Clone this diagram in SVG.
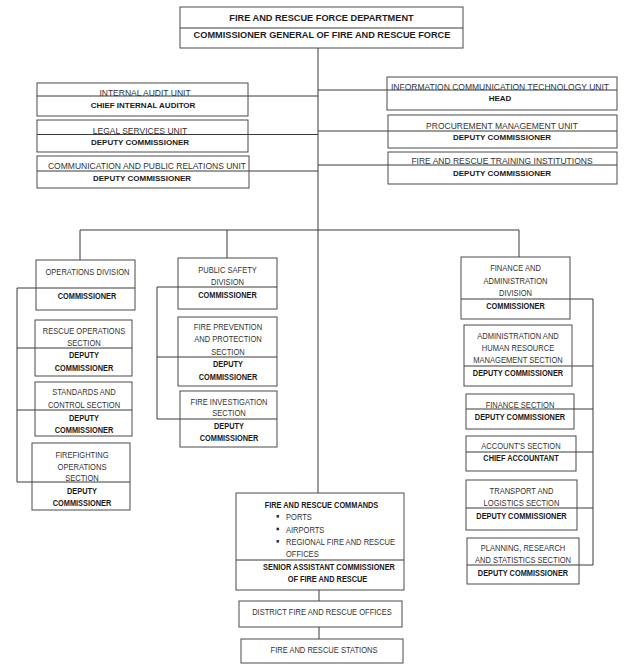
<svg xmlns="http://www.w3.org/2000/svg" width="635" height="666" viewBox="0 0 635 666">
<style>
text{font-family:"Liberation Sans",Arial,sans-serif;text-anchor:middle}
.t{font-size:9.2px;font-weight:bold;fill:#1e1e1e}
.ur{font-size:8.5px;fill:#333}
.ub{font-size:8px;font-weight:bold;fill:#1a1a1a}
.r{font-size:9.2px;fill:#333}
.b{font-size:9px;font-weight:bold;fill:#1a1a1a}
.bx{fill:none;stroke:#4a4a4a;stroke-width:1}
.c{fill:none;stroke:#3a3a3a;stroke-width:1}
.bl{fill:#333}
</style>
<rect width="635" height="666" fill="#fff"/>
<g id="connectors">
<path class="c" d="M318 48V493"/>
<path class="c" d="M37 96H318M37 134.5H318M37 171H318"/>
<path class="c" d="M318 90H617M318 131H617M318 165H617"/>
<path class="c" d="M80 260V230H519V257M227 230V258"/>
<path class="c" d="M135 288H17V482H130M17 348H132M17 410H132"/>
<path class="c" d="M277 287H157V419H277M157 357H277"/>
<path class="c" d="M461 299H593V565H467M464 366H593M466 409H593M466 452H593M466 508H593"/>
<path class="c" d="M319 590V601M319 627V639"/>
</g>
<g id="top">
<rect class="bx" x="180" y="7" width="283" height="41"/>
<path class="c" d="M180 28H463"/>
<text class="t" x="321.5" y="20.5">FIRE AND RESCUE FORCE DEPARTMENT</text>
<text class="t" x="322" y="37.5">COMMISSIONER GENERAL OF FIRE AND RESCUE FORCE</text>
</g>
<g id="internal-audit">
<rect class="bx" x="37" y="83" width="211" height="33"/>
<text class="ur" x="145" y="95.5">INTERNAL AUDIT UNIT</text>
<text class="ub" x="143" y="108">CHIEF INTERNAL AUDITOR</text>
</g>
<g id="legal">
<rect class="bx" x="37" y="120" width="211" height="32"/>
<text class="ur" x="140" y="133.5">LEGAL SERVICES UNIT</text>
<text class="ub" x="140" y="145">DEPUTY COMMISSIONER</text>
</g>
<g id="communication">
<rect class="bx" x="37" y="156" width="212" height="32"/>
<text class="ur" x="147" y="169">COMMUNICATION AND PUBLIC RELATIONS UNIT</text>
<text class="ub" x="142" y="181">DEPUTY COMMISSIONER</text>
</g>
<g id="ict">
<rect class="bx" x="387" y="77" width="230" height="33"/>
<text class="ur" x="500" y="89.5">INFORMATION COMMUNICATION TECHNOLOGY UNIT</text>
<text class="ub" x="500" y="101">HEAD</text>
</g>
<g id="procurement">
<rect class="bx" x="388" y="115" width="229" height="33"/>
<text class="ur" x="502" y="128.5">PROCUREMENT MANAGEMENT UNIT</text>
<text class="ub" x="502" y="140">DEPUTY COMMISSIONER</text>
</g>
<g id="training">
<rect class="bx" x="388" y="152" width="229" height="32"/>
<text class="ur" x="502" y="164">FIRE AND RESCUE TRAINING INSTITUTIONS</text>
<text class="ub" x="502" y="175.5">DEPUTY COMMISSIONER</text>
</g>
<g id="operations">
<rect class="bx" x="36" y="260" width="99" height="50"/>
<text class="r" transform="matrix(.82 0 0 1 87.5 0)" y="275">OPERATIONS DIVISION</text>
<text class="b" transform="matrix(.82 0 0 1 87 0)" y="299">COMMISSIONER</text>
</g>
<g id="rescue-ops">
<rect class="bx" x="35" y="320" width="97" height="56"/>
<text class="r" transform="matrix(.82 0 0 1 84 0)" y="334.5">RESCUE OPERATIONS</text>
<text class="r" transform="matrix(.82 0 0 1 84 0)" y="346.5">SECTION</text>
<text class="b" transform="matrix(.82 0 0 1 84 0)" y="358.5">DEPUTY</text>
<text class="b" transform="matrix(.82 0 0 1 84 0)" y="371">COMMISSIONER</text>
</g>
<g id="standards">
<rect class="bx" x="35" y="382" width="97" height="54"/>
<text class="r" transform="matrix(.82 0 0 1 84 0)" y="395.5">STANDARDS AND</text>
<text class="r" transform="matrix(.82 0 0 1 84 0)" y="408">CONTROL SECTION</text>
<text class="b" transform="matrix(.82 0 0 1 84 0)" y="421">DEPUTY</text>
<text class="b" transform="matrix(.82 0 0 1 84 0)" y="433.5">COMMISSIONER</text>
</g>
<g id="firefighting">
<rect class="bx" x="32" y="443" width="98" height="67"/>
<text class="r" transform="matrix(.82 0 0 1 82 0)" y="458.5">FIREFIGHTING</text>
<text class="r" transform="matrix(.82 0 0 1 82 0)" y="470">OPERATIONS</text>
<text class="r" transform="matrix(.82 0 0 1 82 0)" y="481.5">SECTION</text>
<text class="b" transform="matrix(.82 0 0 1 82 0)" y="494.5">DEPUTY</text>
<text class="b" transform="matrix(.82 0 0 1 82 0)" y="506">COMMISSIONER</text>
</g>
<g id="public-safety">
<rect class="bx" x="178" y="258" width="99" height="51"/>
<text class="r" transform="matrix(.82 0 0 1 227.5 0)" y="273.5">PUBLIC SAFETY</text>
<text class="r" transform="matrix(.82 0 0 1 227.5 0)" y="285.5">DIVISION</text>
<text class="b" transform="matrix(.82 0 0 1 227.5 0)" y="298.5">COMMISSIONER</text>
</g>
<g id="fire-prevention">
<rect class="bx" x="178" y="317" width="99" height="69"/>
<text class="r" transform="matrix(.82 0 0 1 228 0)" y="330">FIRE PREVENTION</text>
<text class="r" transform="matrix(.82 0 0 1 228 0)" y="342.5">AND PROTECTION</text>
<text class="r" transform="matrix(.82 0 0 1 228 0)" y="355">SECTION</text>
<text class="b" transform="matrix(.82 0 0 1 228 0)" y="367">DEPUTY</text>
<text class="b" transform="matrix(.82 0 0 1 228 0)" y="380">COMMISSIONER</text>
</g>
<g id="fire-investigation">
<rect class="bx" x="180" y="391" width="97" height="56"/>
<text class="r" transform="matrix(.82 0 0 1 229 0)" y="405">FIRE INVESTIGATION</text>
<text class="r" transform="matrix(.82 0 0 1 229 0)" y="416.5">SECTION</text>
<text class="b" transform="matrix(.82 0 0 1 229 0)" y="429">DEPUTY</text>
<text class="b" transform="matrix(.82 0 0 1 229 0)" y="441">COMMISSIONER</text>
</g>
<g id="finance-division">
<rect class="bx" x="461" y="257" width="109" height="62"/>
<text class="r" transform="matrix(.82 0 0 1 515.5 0)" y="271.5">FINANCE AND</text>
<text class="r" transform="matrix(.82 0 0 1 515.5 0)" y="284.5">ADMINISTRATION</text>
<text class="r" transform="matrix(.82 0 0 1 515.5 0)" y="296.5">DIVISION</text>
<text class="b" transform="matrix(.82 0 0 1 515.5 0)" y="309">COMMISSIONER</text>
</g>
<g id="admin-hr">
<rect class="bx" x="464" y="325" width="108" height="61"/>
<text class="r" transform="matrix(.82 0 0 1 518 0)" y="339">ADMINISTRATION AND</text>
<text class="r" transform="matrix(.82 0 0 1 518 0)" y="351">HUMAN RESOURCE</text>
<text class="r" transform="matrix(.82 0 0 1 518 0)" y="363.3">MANAGEMENT SECTION</text>
<text class="b" transform="matrix(.82 0 0 1 518 0)" y="376.5">DEPUTY COMMISSIONER</text>
</g>
<g id="finance-section">
<rect class="bx" x="466" y="394" width="108" height="35"/>
<text class="r" transform="matrix(.82 0 0 1 520 0)" y="408">FINANCE SECTION</text>
<text class="b" transform="matrix(.82 0 0 1 520 0)" y="420">DEPUTY COMMISSIONER</text>
</g>
<g id="accounts">
<rect class="bx" x="466" y="436" width="110" height="35"/>
<text class="r" transform="matrix(.82 0 0 1 521 0)" y="449">ACCOUNT'S SECTION</text>
<text class="b" transform="matrix(.82 0 0 1 521 0)" y="461.5">CHIEF ACCOUNTANT</text>
</g>
<g id="transport">
<rect class="bx" x="466" y="480" width="111" height="50"/>
<text class="r" transform="matrix(.82 0 0 1 521.5 0)" y="494">TRANSPORT AND</text>
<text class="r" transform="matrix(.82 0 0 1 521.5 0)" y="506.5">LOGISTICS SECTION</text>
<text class="b" transform="matrix(.82 0 0 1 521.5 0)" y="519.3">DEPUTY COMMISSIONER</text>
</g>
<g id="planning">
<rect class="bx" x="467" y="538" width="112" height="46"/>
<text class="r" transform="matrix(.82 0 0 1 523 0)" y="551">PLANNING, RESEARCH</text>
<text class="r" transform="matrix(.82 0 0 1 523 0)" y="563.5">AND STATISTICS SECTION</text>
<text class="b" transform="matrix(.82 0 0 1 523 0)" y="576.5">DEPUTY COMMISSIONER</text>
</g>
<g id="commands">
<rect class="bx" x="236" y="493" width="168" height="97"/>
<path class="c" d="M236 560H404"/>
<text class="b" transform="matrix(.82 0 0 1 321.5 0)" y="508.3">FIRE AND RESCUE COMMANDS</text>
<rect class="bl" x="276.5" y="515" width="2.6" height="2.6"/>
<rect class="bl" x="276.5" y="527.7" width="2.6" height="2.6"/>
<rect class="bl" x="276.5" y="540" width="2.6" height="2.6"/>
<text class="r" transform="matrix(.82 0 0 1 286 0)" y="520" style="text-anchor:start">PORTS</text>
<text class="r" transform="matrix(.82 0 0 1 286 0)" y="532.7" style="text-anchor:start">AIRPORTS</text>
<text class="r" transform="matrix(.82 0 0 1 286 0)" y="545" style="text-anchor:start">REGIONAL FIRE AND RESCUE</text>
<text class="r" transform="matrix(.82 0 0 1 286 0)" y="556.7" style="text-anchor:start">OFFICES</text>
<text class="b" transform="matrix(.82 0 0 1 329 0)" y="570">SENIOR ASSISTANT COMMISSIONER</text>
<text class="b" transform="matrix(.82 0 0 1 327.5 0)" y="581.7">OF FIRE AND RESCUE</text>
</g>
<g id="district">
<rect class="bx" x="239" y="601" width="163" height="26"/>
<text class="r" transform="matrix(.82 0 0 1 322 0)" y="615">DISTRICT FIRE AND RESCUE OFFICES</text>
</g>
<g id="stations">
<rect class="bx" x="241" y="639" width="162" height="24"/>
<text class="r" transform="matrix(.82 0 0 1 324 0)" y="653.3">FIRE AND RESCUE STATIONS</text>
</g>
</svg>
